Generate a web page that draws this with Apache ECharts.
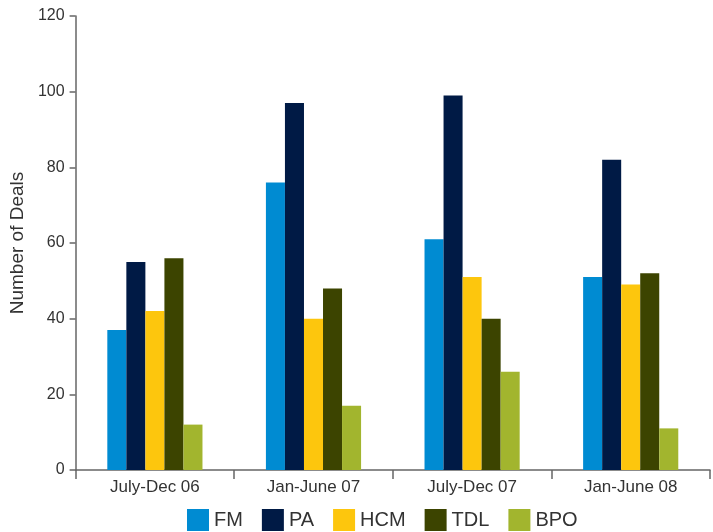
<!DOCTYPE html>
<html><head><meta charset="utf-8">
<script src="https://cdn.jsdelivr.net/npm/echarts@6/dist/echarts.min.js"></script>
<style>html,body{margin:0;padding:0;background:#fff}#c{width:713px;height:532px}</style>
</head><body><div id="c"></div>
<script>
var categories = ["July-Dec 06", "Jan-June 07", "July-Dec 07", "Jan-June 08"];
var seriesNames = ["FM", "PA", "HCM", "TDL", "BPO"];
var FM = [37, 76, 61, 51];
var PA = [55, 97, 99, 82];
var HCM = [42, 40, 51, 49];
var TDL = [56, 48, 40, 52];
var BPO = [12, 17, 26, 11];
var colors = ["#008bd2", "#001a45", "#fdc60d", "#3c4400", "#a2b52e"];
var values = [FM, PA, HCM, TDL, BPO];

var chart = echarts.init(document.getElementById('c'));
var font = "'Liberation Sans', Arial, sans-serif";
chart.setOption({
  animation: false,
  textStyle: {fontFamily: font},
  grid: {left: 74, right: 3, top: 16, bottom: 62, containLabel: false},
  legend: {
    left: 187, top: 509, padding: 0, itemWidth: 22, itemHeight: 22, itemGap: 19,
    icon: 'rect',
    textStyle: {fontSize: 20, color: '#333', fontFamily: font, padding: [0,0,0,0]},
    data: seriesNames
  },
  xAxis: {
    type: 'category', data: categories,
    axisLine: {lineStyle: {color: '#666', width: 1.5}},
    axisTick: {show: true, length: 9, lineStyle: {color: '#666', width: 1.5}},
    axisLabel: {fontSize: 17, color: '#333', margin: 9, fontFamily: font}
  },
  yAxis: {
    type: 'value', min: 0, max: 120, interval: 20,
    name: 'Number of Deals', nameLocation: 'middle', nameGap: 43,
    nameTextStyle: {fontSize: 19, color: '#333', fontFamily: font},
    axisLine: {show: true, lineStyle: {color: '#666', width: 1.5}},
    axisTick: {show: true, length: 6, lineStyle: {color: '#666', width: 1.5}},
    axisLabel: {fontSize: 16, color: '#333', margin: 11, fontFamily: font},
    splitLine: {show: false}
  },
  series: seriesNames.map(function (n, i) {
    return {
      name: n, type: 'bar', data: values[i],
      barGap: '0%', barCategoryGap: '40%',
      itemStyle: {color: colors[i]}
    };
  })
});
</script></body></html>
